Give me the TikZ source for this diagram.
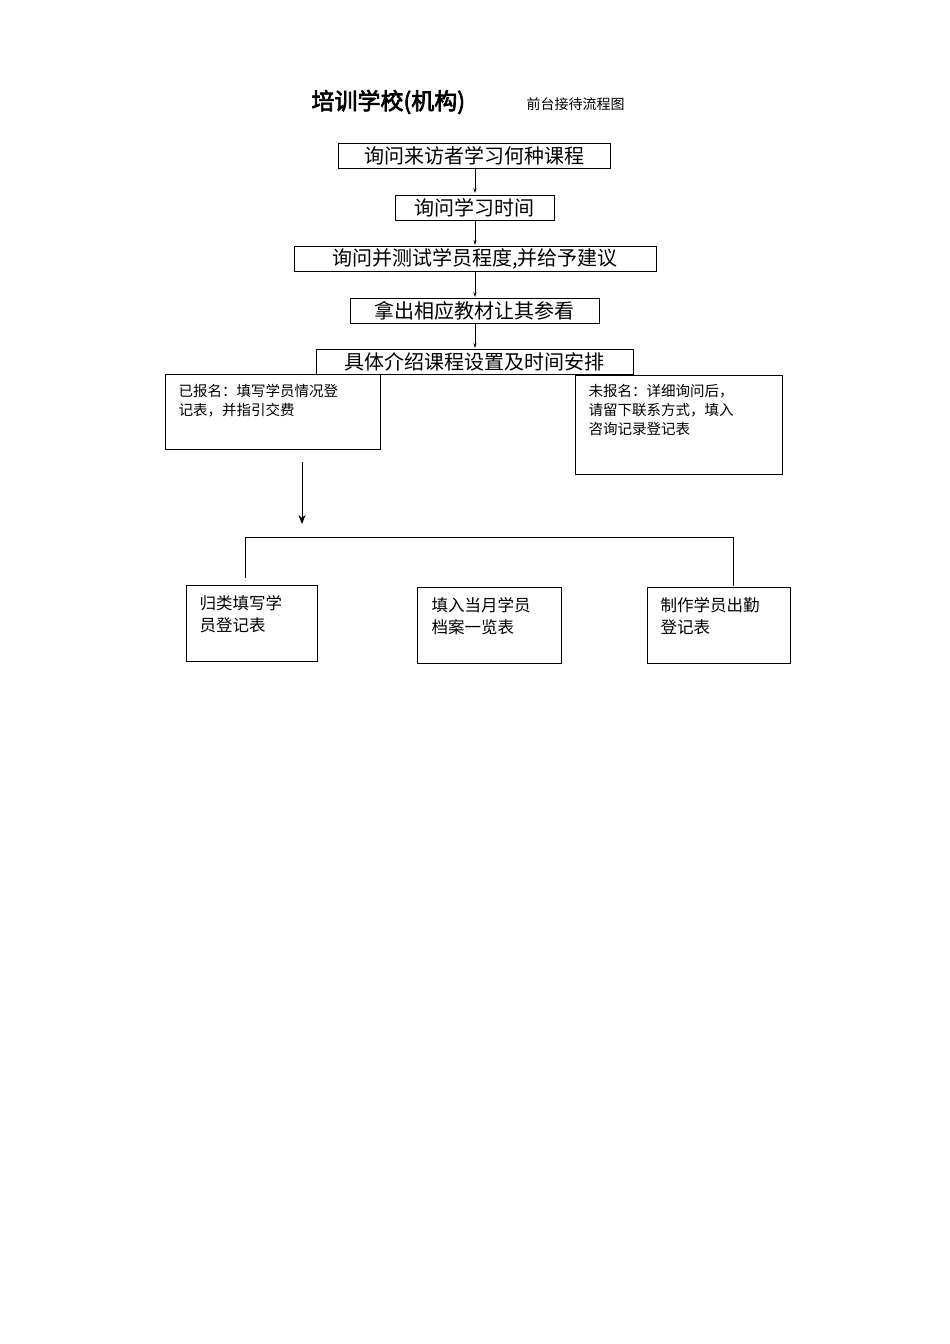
\documentclass[tikz,border=0pt]{standalone}
\usepackage{fontspec}
\newfontfamily\cjk{Noto Sans CJK SC}
\newfontfamily\cjkb[FakeBold=3]{Noto Sans CJK SC}
\usetikzlibrary{arrows.meta}
\begin{document}
\begin{tikzpicture}[x=1pt,y=-1pt,
  bx/.style={draw,line width=0.8pt,inner sep=0pt},
  big/.style={font=\cjk\fontsize{20}{22}\selectfont},
  sm/.style={font=\cjk\fontsize{14.5}{19}\selectfont,align=left,anchor=north west},
  md/.style={font=\cjk\fontsize{16.5}{22}\selectfont,align=left,anchor=north west},
  ar/.style={-{Stealth[length=5pt,width=3pt]},line width=0.5pt}]
\useasboundingbox (0,0) rectangle (950,1344);
\fill[white] (0,0) rectangle (950,1344);
\node[anchor=west,font=\cjkb\fontsize{23}{25}\selectfont] (t1) at (308,102) {培训学校(机构)};
\node[anchor=west,font=\cjk\fontsize{14}{16}\selectfont] (t2) at (523,104) {前台接待流程图};
\draw[bx] (338,143) rectangle (610,168); \node[big] (b1) at (474,156) {询问来访者学习何种课程};
\draw[bx] (395,195) rectangle (554,220); \node[big] (b2) at (474,208) {询问学习时间};
\draw[bx] (294,246) rectangle (656,271); \node[big] (b3) at (475,259) {询问并测试学员程度,并给予建议};
\draw[bx] (350,298) rectangle (599,323); \node[big] (b4) at (474,311) {拿出相应教材让其参看};
\draw[bx] (316,349) rectangle (633,374); \node[big] (b5) at (474,362) {具体介绍课程设置及时间安排};
\coordinate (a1) at (475,168); \coordinate (a1e) at (475,193);
\coordinate (a2) at (475,220); \coordinate (a2e) at (475,245);
\coordinate (a3) at (475,271); \coordinate (a3e) at (475,297);
\coordinate (a4) at (475,323); \coordinate (a4e) at (475,348);
\draw[ar] (a1)--(a1e); \draw[ar] (a2)--(a2e); \draw[ar] (a3)--(a3e); \draw[ar] (a4)--(a4e);
\draw[bx] (165,374) rectangle (380,449);
\node[sm] (l) at (175,381) {已报名：填写学员情况登\\记表，并指引交费};
\draw[bx] (575,375) rectangle (782,474);
\node[sm] (r) at (585,381) {未报名：详细询问后，\\请留下联系方式，填入\\咨询记录登记表};
\coordinate (d0) at (302,462); \coordinate (d1) at (302,524);
\draw[-{Stealth[length=9pt,width=7pt]},line width=0.8pt] (d0)--(d1);
\coordinate (h1) at (245,578); \coordinate (h2) at (245,537);
\coordinate (h3) at (733,537); \coordinate (h4) at (733,586);
\draw[line width=0.8pt] (h1)--(h2)--(h3)--(h4);
\draw[bx] (186,585) rectangle (317,661);
\node[md] (c1) at (196,592) {归类填写学\\员登记表};
\draw[bx] (417,587) rectangle (561,663);
\node[md] (c2) at (428,594) {填入当月学员\\档案一览表};
\draw[bx] (647,587) rectangle (790,663);
\node[md] (c3) at (657,594) {制作学员出勤\\登记表};
\end{tikzpicture}
\end{document}
